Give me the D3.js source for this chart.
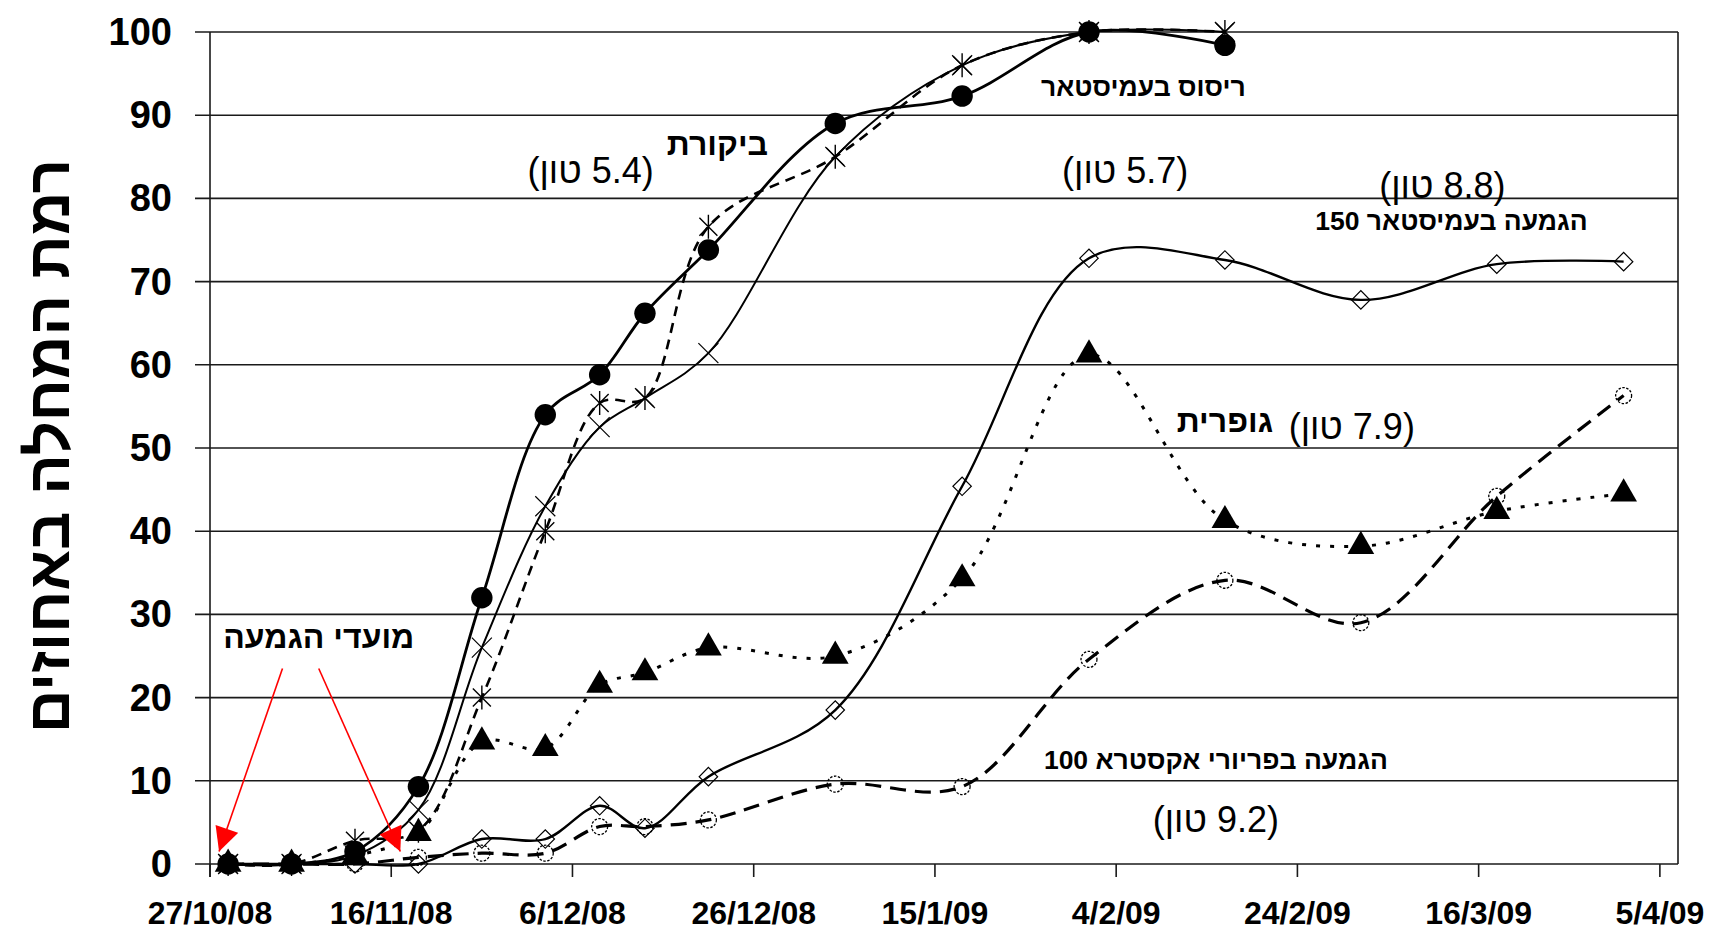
<!DOCTYPE html>
<html lang="he">
<head>
<meta charset="UTF-8">
<script src="https://d3js.org/d3.v7.min.js"></script>
<style>
  body { margin: 0; background: #fff; font-family: "Liberation Sans", Arial, "DejaVu Sans", sans-serif; }
  .grid line { stroke: #1a1a1a; stroke-width: 1.6px; }
  .tick-y { font-size: 38px; font-weight: bold; }
  .tick-x { font-size: 32px; font-weight: bold; }
  .note { font-size: 26.5px; font-weight: bold; fill: #000; }
  .big { font-size: 32px; font-weight: bold; fill: #000; }
  .ton { font-size: 36px; fill: #000; }
</style>
</head>
<body>
<svg id="chart" width="1713" height="932"></svg>
<script>
// sampling dates
const dates = ["29/10/08", "5/11/08", "12/11/08", "19/11/08", "26/11/08", "3/12/08", "9/12/08", "14/12/08",
               "21/12/08", "4/1/09", "18/1/09", "1/2/09", "16/2/09", "3/3/09", "18/3/09", "1/4/09"];
const tickDates = ["27/10/08", "16/11/08", "6/12/08", "26/12/08", "15/1/09", "4/2/09", "24/2/09", "16/3/09", "5/4/09"];
const yTicks = [0, 10, 20, 30, 40, 50, 60, 70, 80, 90, 100];

// disease level (%) per series
const sprayAmistar  = [0, 0, 1.5, 9.3, 32, 54, 58.8, 66.2, 73.8, 89, 92.3, 100, 98.4];   // filled circles
const controlStar   = [0, 0, 2.8, 4, 20, 40, 55.4, 56, 76.6, 85, 96, 100, 100];          // asterisk, dashed
const controlCross  = [0, 0, 1, 6.5, 26, 43, 52.5, 56, 61.4, 85, 96, 100, 100];           // x, thin solid
const drenchAmistar = [0, 0, 0, 0, 3, 3, 7, 4.3, 10.5, 18.5, 45.4, 72.8, 72.6, 67.8, 72.1, 72.4]; // diamonds
const sulfur        = [0, 0, 1, 3.7, 14.7, 13.9, 21.5, 23, 26, 25, 34.3, 61.2, 41.3, 38.2, 42.4, 44.5]; // triangles
const drenchPriori  = [0, 0, 0, 0.8, 1.3, 1.3, 4.5, 4.5, 5.3, 9.6, 9.3, 24.6, 34.1, 29, 44.2, 56.3];     // open circles

// text labels placed in data coordinates [text, date, value, class]
const labels = [
  ["ביקורת", "22/12/08", 86.5, "big"],
  ["(5.4 טון)", "8/12/08", 83.4, "ton"],
  ["ריסוס בעמיסטאר", "7/2/09", 93.4, "note"],
  ["(5.7 טון)", "5/2/09", 83.4, "ton"],
  ["(8.8 טון)", "12/3/09", 81.6, "ton"],
  ["הגמעה בעמיסטאר 150", "13/3/09", 77.3, "note"],
  ["גופרית", "16/2/09", 53.2, "big"],
  ["(7.9 טון)", "2/3/09", 52.6, "ton"],
  ["הגמעה בפריורי אקסטרא 100", "15/2/09", 12.5, "note"],
  ["(9.2 טון)", "15/2/09", 5.4, "ton"],
  ["מועדי הגמעה", "8/11/08", 27.3, "big"]
];
const drenchDates = ["28/10/08", "17/11/08"];

const parse = d3.utcParse("%d/%m/%y");
const fmt = d3.utcFormat("%-d/%-m/%y");

const margin = { top: 32, right: 35, bottom: 68, left: 210 },
      W = 1713, H = 932,
      width = W - margin.left - margin.right,
      height = H - margin.top - margin.bottom;

const svg = d3.select("#chart");
const g = svg.append("g").attr("transform", `translate(${margin.left},${margin.top})`);

const x = d3.scaleUtc()
    .domain([parse("27/10/08"), parse("7/4/09")])
    .range([0, width]);
const y = d3.scaleLinear().domain([0, 100]).range([height, 0]);

// horizontal gridlines with outward ticks
g.append("g").attr("class", "grid")
  .selectAll("line").data(yTicks).enter().append("line")
  .attr("x1", -15).attr("x2", width)
  .attr("y1", d => y(d)).attr("y2", d => y(d));

// frame
g.append("line").attr("x1", 0).attr("x2", 0).attr("y1", 0).attr("y2", height + 13)
  .attr("stroke", "#1a1a1a").attr("stroke-width", 1.6);
g.append("line").attr("x1", width).attr("x2", width).attr("y1", 0).attr("y2", height)
  .attr("stroke", "#1a1a1a").attr("stroke-width", 1.6);

// y tick labels
g.selectAll(".tick-y").data(yTicks).enter().append("text")
  .attr("class", "tick-y")
  .attr("x", -38).attr("y", d => y(d))
  .attr("text-anchor", "end").attr("dominant-baseline", "central")
  .text(d => d);

// x axis ticks + labels
const xt = tickDates.map(parse);
g.selectAll(".xtick").data(xt).enter().append("line")
  .attr("class", "xtick")
  .attr("x1", d => x(d)).attr("x2", d => x(d))
  .attr("y1", height).attr("y2", height + 13)
  .attr("stroke", "#1a1a1a").attr("stroke-width", 1.6);
g.selectAll(".tick-x").data(xt).enter().append("text")
  .attr("class", "tick-x")
  .attr("x", d => x(d)).attr("y", height + 60)
  .attr("text-anchor", "middle")
  .text(d => fmt(d));

// y axis title
svg.append("text")
  .attr("transform", "translate(48,446) rotate(-90)")
  .attr("text-anchor", "middle").attr("dominant-baseline", "central")
  .attr("direction", "rtl")
  .style("font-size", "60px").style("font-weight", "bold")
  .text("רמת המחלה באחוזים");

// series
const series = [
  { values: drenchPriori,  marker: "ring",     width: 3.2, dash: "16,9" },
  { values: sulfur,        marker: "triangle", width: 3,   dash: "4,10" },
  { values: drenchAmistar, marker: "diamond",  width: 2.4, dash: null },
  { values: controlCross,  marker: "cross",    width: 2,   dash: null },
  { values: controlStar,   marker: "star",     width: 2.6, dash: "10,7" },
  { values: sprayAmistar,  marker: "dot",      width: 2.8, dash: null }
];

const line = d3.line()
  .x(d => x(d.date)).y(d => y(d.v))
  .curve(d3.curveCatmullRom.alpha(0.5));

series.forEach(s => {
  const pts = s.values.map((v, i) => ({ date: parse(dates[i]), v: v }));
  g.append("path").datum(pts)
    .attr("fill", "none").attr("stroke", "#000")
    .attr("stroke-width", s.width)
    .attr("stroke-dasharray", s.dash)
    .attr("d", line);

  const m = g.selectAll(null).data(pts).enter().append("path")
    .attr("transform", d => `translate(${x(d.date)},${y(d.v)})`);
  if (s.marker === "dot") {
    m.attr("d", d3.symbol(d3.symbolCircle, 360)).attr("fill", "#000");
  } else if (s.marker === "triangle") {
    m.attr("d", d3.symbol(d3.symbolTriangle, 310)).attr("fill", "#000");
  } else if (s.marker === "diamond") {
    m.attr("d", d3.symbol(d3.symbolSquare, 170)).attr("fill", "none")
      .attr("stroke", "#000").attr("stroke-width", 1.2)
      .attr("transform", d => `translate(${x(d.date)},${y(d.v)}) rotate(45)`);
  } else if (s.marker === "ring") {
    m.attr("d", d3.symbol(d3.symbolCircle, 200)).attr("fill", "none")
      .attr("stroke", "#000").attr("stroke-width", 1.3).attr("stroke-dasharray", "2.5,1.5");
  } else if (s.marker === "cross") {
    m.attr("d", "M-10,-10L10,10M-10,10L10,-10").attr("fill", "none")
      .attr("stroke", "#000").attr("stroke-width", 1.2);
  } else if (s.marker === "star") {
    m.attr("d", "M-9,-9L9,9M-9,9L9,-9M0,-12L0,12").attr("fill", "none")
      .attr("stroke", "#000").attr("stroke-width", 1.4);
  }
});

// red arrows for drench dates
const defs = svg.append("defs");
defs.append("marker").attr("id", "head")
  .attr("viewBox", "0 0 10 10").attr("refX", 10).attr("refY", 5)
  .attr("markerWidth", 26).attr("markerHeight", 24)
  .attr("markerUnits", "userSpaceOnUse").attr("orient", "auto")
  .append("path").attr("d", "M0,0L10,5L0,10Z").attr("fill", "#ff0000");

const arrowFrom = [["4/11/08", 23.5], ["8/11/08", 23.5]];
drenchDates.forEach((d, i) => {
  g.append("line")
    .attr("x1", x(parse(arrowFrom[i][0]))).attr("y1", y(arrowFrom[i][1]))
    .attr("x2", x(parse(d))).attr("y2", y(1.5))
    .attr("stroke", "#ff0000").attr("stroke-width", 1.6)
    .attr("marker-end", "url(#head)");
});

// annotations
g.selectAll(".lbl").data(labels).enter().append("text")
  .attr("class", d => d[3])
  .attr("x", d => x(parse(d[1]))).attr("y", d => y(d[2]))
  .attr("text-anchor", "middle").attr("dominant-baseline", "central")
  .attr("direction", "rtl")
  .text(d => d[0]);
</script>
</body>
</html>
